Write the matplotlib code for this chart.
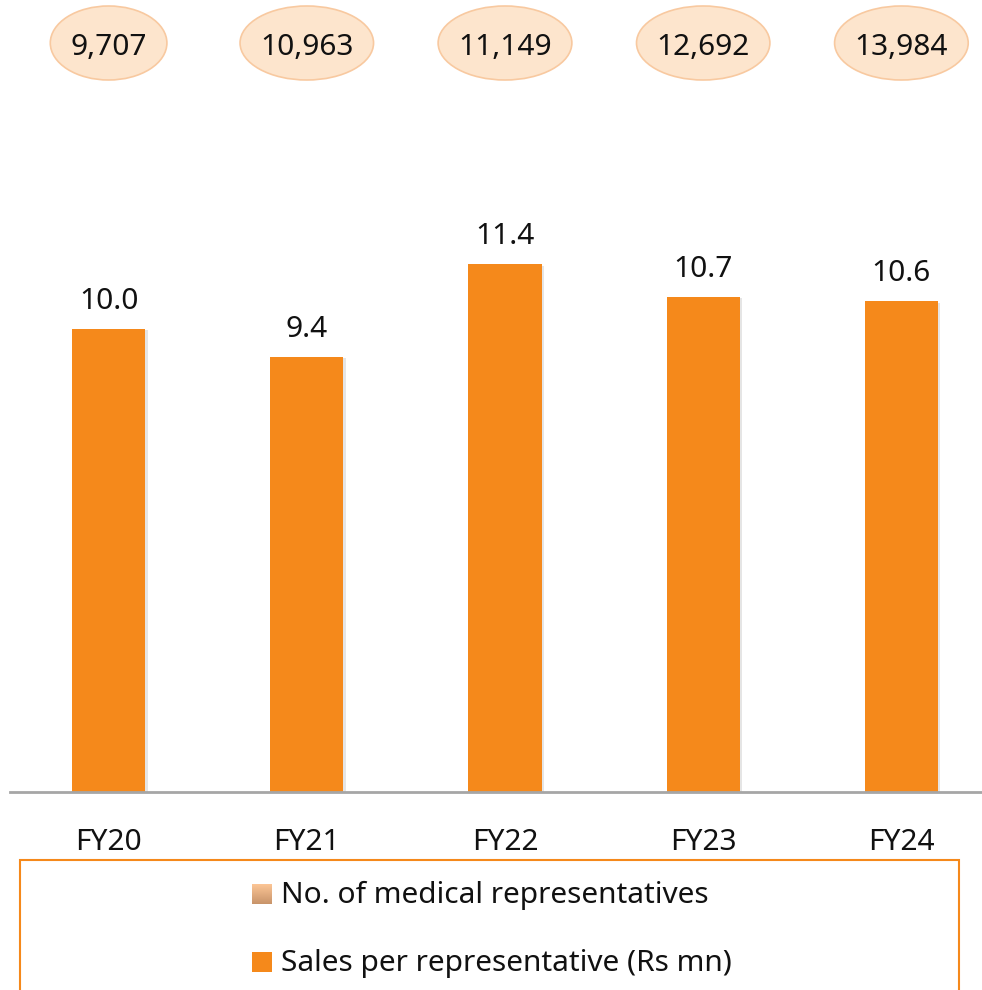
import matplotlib
matplotlib.use("Agg")
import matplotlib.pyplot as plt
from matplotlib.patches import Rectangle, Ellipse
import numpy as np

plt.rcParams['font.family'] = ['Noto Sans', 'DejaVu Sans']

categories = ["FY20", "FY21", "FY22", "FY23", "FY24"]
sales_per_rep = [10.0, 9.4, 11.4, 10.7, 10.6]
num_reps = [9707, 10963, 11149, 12692, 13984]
legend_labels = ["No. of medical representatives", "Sales per representative (Rs mn)"]

BAR = "#F5891B"
FS = 21.5
W, H = 982, 990
fig = plt.figure(figsize=(W / 100, H / 100), dpi=100)

px_per_unit = 46.3
px_per_cat = 198.0
ax_left, ax_right = 9.5, 1000.5
ax_top_px = 792
ax = fig.add_axes([ax_left / W, (H - 792) / H, (ax_right - ax_left) / W, ax_top_px / H])
ax.set_xlim(-0.5, 4.5)
ax.set_ylim(0, ax_top_px / px_per_unit)
ax.axis("off")

x = np.arange(len(categories))
bars = ax.bar(x, sales_per_rep, width=73 / px_per_cat, color=BAR, zorder=3)
for b in bars:
    ax.add_patch(Rectangle((b.get_x() + 0.012, 0), b.get_width(), b.get_height() - 0.03,
                           color="#000000", alpha=0.10, zorder=2, linewidth=0))

for xi, v in zip(x, sales_per_rep):
    ax.annotate(f"{v:.1f}", (xi, v), xytext=(0, 20), textcoords="offset pixels",
                ha="center", va="baseline", fontsize=FS, color="#111111")

ax.plot([-0.5, 4.6], [0, 0], color="#A6A6A6", lw=2, clip_on=False, zorder=4)

for xi, c in zip(x, categories):
    ax.text(xi, -58 / px_per_unit, c, ha="center", va="baseline", fontsize=FS, color="#111111")

renderer = fig.canvas.get_renderer()
for xi, n in zip(x, num_reps):
    t = ax.text(xi, (792 - 55) / px_per_unit, f"{n:,}", ha="center", va="baseline",
                fontsize=FS, color="#111111", zorder=5)
    tw = t.get_window_extent(renderer).width
    ax.add_patch(Ellipse((xi, (792 - 43) / px_per_unit), (tw + 40) / px_per_cat,
                         74 / px_per_unit, fc="#FDE5CD", ec="#F8C9A0", lw=1.2,
                         zorder=4, clip_on=False))

fig.patches.append(Rectangle((20 / W, -10 / H), (959 - 20) / W, (H - 860 + 10) / H,
                             transform=fig.transFigure, fill=False, ec="#F5891B", lw=1.5,
                             figure=fig))

grad_ax = fig.add_axes([252 / W, (H - 904) / H, 20 / W, 20 / H])
grad = np.linspace(0, 1, 50)[:, None]
c1 = np.array([255, 200, 152]) / 255
c2 = np.array([200, 148, 106]) / 255
img = (c1[None, None, :] * (1 - grad[:, :, None]) + c2[None, None, :] * grad[:, :, None])
grad_ax.imshow(img, aspect="auto", extent=[0, 1, 0, 1])
grad_ax.axis("off")

fig.patches.append(Rectangle((252 / W, (H - 972) / H), 20 / W, 20 / H,
                             transform=fig.transFigure, fc=BAR, ec="none", figure=fig))

fig.text(281 / W, (H - 903) / H, legend_labels[0], ha="left", va="baseline",
         fontsize=FS, color="#111111")
fig.text(281 / W, (H - 971) / H, legend_labels[1], ha="left", va="baseline",
         fontsize=FS, color="#111111")

fig.savefig("out.png", dpi=100)
